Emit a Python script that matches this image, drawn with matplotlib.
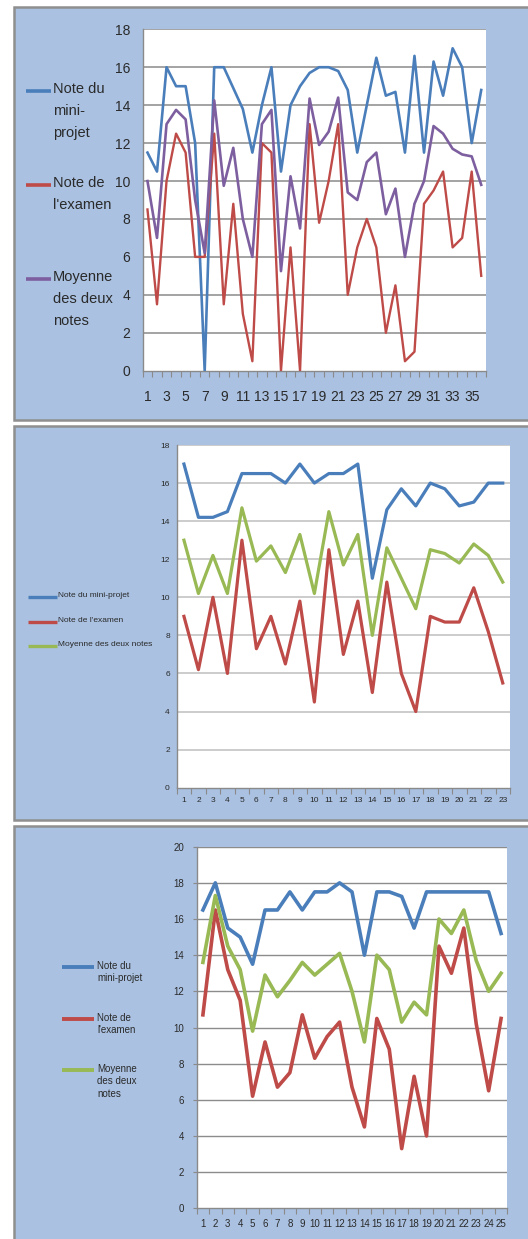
import matplotlib
matplotlib.use("Agg")
import matplotlib.pyplot as plt
from matplotlib.patches import Rectangle
from matplotlib.lines import Line2D
from matplotlib.ticker import FixedLocator, NullFormatter, FixedFormatter

# ---------------- data ----------------
cats1 = list(range(1, 37))
mini1 = [11.5, 10.5, 16, 15, 15, 12, 0, 16, 16, 14.9, 13.8, 11.5, 14, 16, 10.5, 14,
         15, 15.7, 16, 16, 15.8, 14.8, 11.5, 14, 16.5, 14.5, 14.7, 11.5, 16.6, 11.5,
         16.3, 14.5, 17, 16, 12, 14.8]
exam1 = [8.5, 3.5, 10, 12.5, 11.5, 6, 6, 12.5, 3.5, 8.8, 3, 0.5, 12, 11.5, 0, 6.5,
         0, 13, 7.8, 10, 13, 4, 6.5, 8, 6.5, 2, 4.5, 0.5, 1, 8.8, 9.5, 10.5, 6.5, 7,
         10.5, 5]
moy1 = [10, 7, 13, 13.75, 13.25, 9, 6.2, 14.25, 9.75, 11.75, 8, 6, 13, 13.75, 5.25,
        10.25, 7.5, 14.35, 11.9, 12.6, 14.4, 9.4, 9, 11, 11.5, 8.25, 9.6, 6, 8.8, 10,
        12.9, 12.5, 11.7, 11.4, 11.3, 9.8]

cats2 = list(range(1, 24))
mini2 = [17, 14.2, 14.2, 14.5, 16.5, 16.5, 16.5, 16, 17, 16, 16.5, 16.5, 17, 11,
         14.6, 15.7, 14.8, 16, 15.7, 14.8, 15, 16, 16]
exam2 = [9, 6.2, 10, 6, 13, 7.3, 9, 6.5, 9.8, 4.5, 12.5, 7, 9.8, 5, 10.8, 6, 4, 9,
         8.7, 8.7, 10.5, 8.2, 5.5]
moy2 = [13, 10.2, 12.2, 10.2, 14.7, 11.9, 12.7, 11.3, 13.3, 10.2, 14.5, 11.7, 13.3,
        8, 12.6, 11, 9.4, 12.5, 12.3, 11.8, 12.8, 12.2, 10.8]

cats3 = list(range(1, 26))
mini3 = [16.5, 18, 15.5, 15, 13.5, 16.5, 16.5, 17.5, 16.5, 17.5, 17.5, 18, 17.5, 14,
         17.5, 17.5, 17.25, 15.5, 17.5, 17.5, 17.5, 17.5, 17.5, 17.5, 15.2]
exam3 = [10.7, 16.5, 13.2, 11.5, 6.2, 9.2, 6.7, 7.5, 10.7, 8.3, 9.5, 10.3, 6.7, 4.5,
         10.5, 8.8, 3.3, 7.3, 4, 14.5, 13, 15.5, 10.2, 6.5, 10.5]
moy3 = [13.6, 17.3, 14.5, 13.2, 9.8, 12.9, 11.7, 12.6, 13.6, 12.9, 13.5, 14.1, 12,
        9.2, 14, 13.2, 10.3, 11.4, 10.7, 16, 15.2, 16.5, 13.7, 12, 13]

labels1 = ["Note du\nmini-\nprojet", "Note de\nl'examen", "Moyenne\ndes deux\nnotes"]
labels2 = ["Note du mini-projet", "Note de l'examen", "Moyenne des deux notes"]
labels3 = ["Note du\nmini-projet", "Note de\nl'examen", "Moyenne\ndes deux\nnotes"]

# ---------------- style ----------------
W, H = 528, 1239
FONT = ["DejaVu Sans Condensed", "Liberation Sans Narrow", "Liberation Sans", "DejaVu Sans"]
plt.rcParams["font.family"] = FONT
BLUE, RED, PURPLE, GREEN = "#4A7EBB", "#BE4B48", "#7D5FA0", "#98B954"
PANEL = "#AAC1E1"
BORDER = "#8F8F8F"
TXT = "#2A2A2A"

fig = plt.figure(figsize=(W / 100, H / 100), dpi=100)
fig.patch.set_facecolor("white")


def fx(x):
    return x / W


def fy(y):
    return 1 - y / H


def panel(top, bottom):
    r = Rectangle((fx(14), fy(bottom)), fx(540) - fx(14), fy(top) - fy(bottom),
                  transform=fig.transFigure, facecolor=PANEL, edgecolor=BORDER,
                  linewidth=1.8, zorder=-5)
    fig.patches.append(r)


panel(7, 420)
panel(426, 820)
panel(826, 1260)


def make_axes(l, t, r, b):
    ax = fig.add_axes([fx(l), fy(b), fx(r) - fx(l), fy(t) - fy(b)])
    ax.set_zorder(2)
    return ax


def setup(ax, cats, ymax, ystep, gridc, gridlw, tickfs, ypad, xpad, show_every,
          ytick_len, axisc):
    n = len(cats)
    ax.set_xlim(0.5, n + 0.5)
    ax.set_ylim(0, ymax)
    ax.set_facecolor("white")
    for s in ("top", "right"):
        ax.spines[s].set_visible(False)
    for s in ("left", "bottom"):
        ax.spines[s].set_color(axisc)
        ax.spines[s].set_linewidth(1.0)
    yt = list(range(0, ymax + 1, ystep))
    ax.set_yticks(yt)
    ax.set_yticklabels([str(v) for v in yt], fontsize=tickfs)
    ax.tick_params(axis="y", length=ytick_len, color=axisc, pad=ypad, labelcolor=TXT)
    for v in yt[1:]:
        ax.axhline(v, color=gridc, lw=gridlw, zorder=1)
    # category boundaries as major ticks, labels on minor ticks at centres
    ax.xaxis.set_major_locator(FixedLocator([i + 0.5 for i in range(0, n + 1)]))
    ax.xaxis.set_major_formatter(NullFormatter())
    ax.xaxis.set_minor_locator(FixedLocator(cats))
    ax.xaxis.set_minor_formatter(FixedFormatter(
        [str(c) if (i % show_every == 0) else "" for i, c in enumerate(cats)]))
    ax.tick_params(axis="x", which="major", length=4, color=axisc, direction="out")
    ax.tick_params(axis="x", which="minor", length=0, pad=xpad, labelsize=tickfs,
                   labelcolor=TXT)


def legend(handles_info, x0, x1, xt, ys, fs, lspace, lw):
    fs_px = fs * 100 / 72
    for (color, label), y in zip(handles_info, ys):
        fig.add_artist(Line2D([fx(x0), fx(x1)], [fy(y), fy(y)], color=color, lw=lw,
                              transform=fig.transFigure, solid_capstyle="butt"))
        fig.text(fx(xt), fy(y - fs_px * 0.62), label, fontsize=fs, va="top",
                 ha="left", color=TXT, linespacing=lspace)


# ---------------- chart 1 ----------------
ax1 = make_axes(142.7, 29.3, 486, 370.7)
setup(ax1, cats1, 18, 2, "#A3A3A3", 1.4, 10, 9, 14, 2, 0, "#8A8A8A")
ax1.plot(cats1, mini1, color=BLUE, lw=1.9, zorder=3)
ax1.plot(cats1, exam1, color=RED, lw=1.7, zorder=3)
ax1.plot(cats1, moy1, color=PURPLE, lw=1.9, zorder=3)
legend([(BLUE, labels1[0]), (RED, labels1[1]), (PURPLE, labels1[2])],
       26, 51, 53, [91, 185, 279], 10.5, 1.75, 2.6)

# ---------------- chart 2 ----------------
ax2 = make_axes(176.7, 445, 510, 787.7)
setup(ax2, cats2, 18, 2, "#C4C4C4", 1.2, 6, 5, 7, 1, 0, "#8A8A8A")
ax2.plot(cats2, mini2, color=BLUE, lw=2.3, zorder=3)
ax2.plot(cats2, exam2, color=RED, lw=2.3, zorder=3)
ax2.plot(cats2, moy2, color=GREEN, lw=2.3, zorder=3)
legend([(BLUE, labels2[0]), (RED, labels2[1]), (GREEN, labels2[2])],
       28, 57, 58, [597, 622, 646], 6, 1.2, 2.4)

# ---------------- chart 3 ----------------
ax3 = make_axes(196.7, 846.7, 507.3, 1208.3)
setup(ax3, cats3, 20, 2, "#8C8C8C", 1.0, 7, 6, 8, 1, 3, "#8A8A8A")
ax3.plot(cats3, mini3, color=BLUE, lw=2.6, zorder=3)
ax3.plot(cats3, exam3, color=RED, lw=2.6, zorder=3)
ax3.plot(cats3, moy3, color=GREEN, lw=2.6, zorder=3)
legend([(BLUE, labels3[0]), (RED, labels3[1]), (GREEN, labels3[2])],
       62, 94, 97, [967, 1019, 1070], 7, 1.3, 2.8)

fig.savefig("out.png", dpi=100, facecolor="white")
